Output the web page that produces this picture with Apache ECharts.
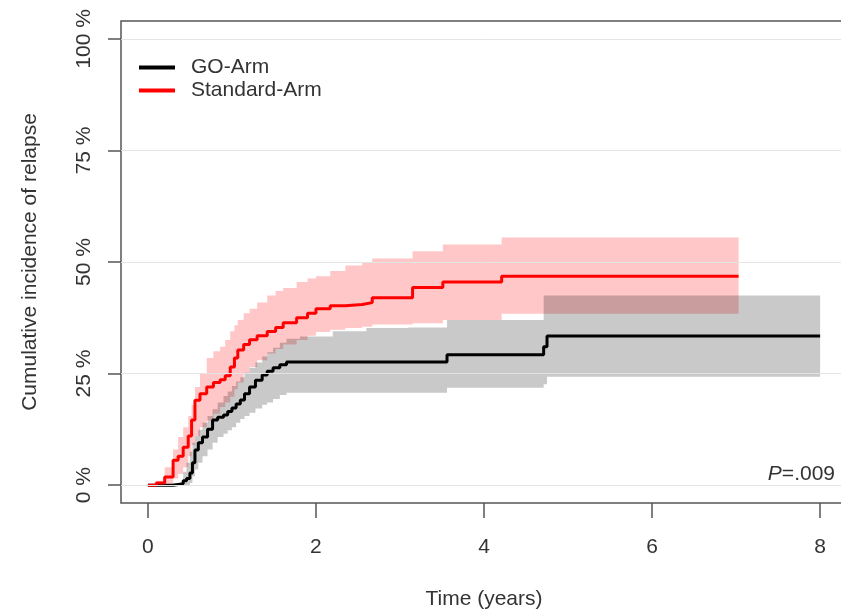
<!DOCTYPE html>
<html>
<head>
<meta charset="utf-8">
<title>Cumulative incidence of relapse</title>
<script src="https://cdn.jsdelivr.net/npm/echarts@6/dist/echarts.min.js"></script>
<style>
  html, body { margin: 0; padding: 0; background: #fff; }
  #chart { width: 841px; height: 613px; }
</style>
</head>
<body>
<div id="chart"></div>
<script>
const xTicks = [0, 2, 4, 6, 8]
const yTicks = [0, 25, 50, 75, 100]

// Standard-Arm: time (years), estimate and 95% band (%)
const stdTime = [0, 0.1, 0.2, 0.3, 0.36, 0.42, 0.48, 0.52, 0.56, 0.62, 0.7, 0.78, 0.86, 0.92, 0.98, 1.03, 1.07, 1.14, 1.21, 1.3, 1.42, 1.52, 1.61, 1.77, 1.9, 2.0, 2.17, 2.35, 2.55, 2.67, 3.15, 3.51, 4.21, 7.03]
const stdEst = [0, 0.5, 1.8, 5.6, 6.5, 8.5, 11, 14.6, 19, 20.5, 22, 23, 23.6, 24.5, 26.5, 28.5, 30.3, 31.5, 32.6, 33.5, 34.4, 35.3, 36.4, 37.5, 38.5, 39.5, 40.2, 40.5, 40.9, 42, 44.3, 45.5, 46.8, 46.8]
const stdHigh = [0, 1, 4, 8, 10.8, 13, 15.5, 18, 22, 25, 28.5, 30, 31, 32.5, 34.5, 35.8, 37, 38.5, 39.5, 40.9, 42.5, 43.5, 44.2, 45.5, 46.3, 46.8, 48, 49.2, 50, 50.8, 52.4, 53.9, 55.5, 55.5]
const stdLow = [0, 0, 0, 1.5, 2.5, 4, 6.5, 9, 11, 13, 14.5, 16, 17.5, 18.5, 19.8, 21.5, 23, 25, 26.5, 28, 29.5, 30.5, 31.5, 32.5, 33.5, 34.3, 34.8, 35.2, 35.5, 36, 36.3, 37, 38.4, 38.4]

// GO-Arm
const goTime = [0, 0.3, 0.42, 0.46, 0.5, 0.53, 0.56, 0.6, 0.65, 0.71, 0.77, 0.83, 0.9, 0.95, 1.0, 1.05, 1.1, 1.15, 1.21, 1.28, 1.36, 1.42, 1.49, 1.57, 1.65, 1.81, 2.2, 2.6, 3.1, 3.56, 4.71, 4.75, 8.0]
const goEst = [0, 0.3, 1, 1.5, 2.7, 5, 7.9, 9.5, 10.8, 12.5, 14.6, 15.2, 15.7, 16.5, 17.3, 18.2, 19.1, 20.5, 22, 23.5, 24.7, 25.5, 26.3, 27, 27.6, 27.6, 27.6, 27.6, 27.6, 29.2, 31, 33.4, 33.4]
const goHigh = [0, 0.5, 3, 5, 7.5, 9.5, 11, 12.4, 14, 15.5, 17, 18.5, 20, 21, 22.2, 23.2, 24.2, 25.2, 26.3, 27.5, 28.8, 29.8, 30.8, 31.9, 32.8, 33.3, 34.5, 35.2, 35.3, 37, 42.5, 42.5, 42.5]
const goLow = [0, 0, 0, 0, 0.5, 2, 3.5, 5, 6.5, 8, 9.5, 10.8, 11.5, 12.3, 13, 14, 14.8, 15.5, 16.2, 17.2, 18, 18.5, 19.3, 20.2, 20.7, 20.7, 20.7, 20.7, 20.7, 21.8, 22.6, 24.3, 24.3]

const font = 'Liberation Sans, Arial, sans-serif'
const txt = '#333'

function pairs(ts, vs) {
  return ts.map((t, i) => [t, vs[i]])
}

function steps(ts, vs) {
  let pts = []
  for (let i = 0; i < ts.length; i++) {
    if (i > 0) pts.push([ts[i], vs[i - 1]])
    pts.push([ts[i], vs[i]])
  }
  return pts
}

function band(ts, lo, hi, color) {
  return {
    type: 'custom',
    silent: true,
    z: 1,
    data: [[ts[0], lo[0]]],
    renderItem: function (params, api) {
      let top = steps(ts, hi).map(p => api.coord(p))
      let bottom = steps(ts, lo).reverse().map(p => api.coord(p))
      return {
        type: 'polygon',
        shape: { points: top.concat(bottom) },
        style: { fill: color }
      }
    }
  }
}

let ch = echarts.init(document.getElementById('chart'))
let option = {
  animation: false,
  backgroundColor: '#fff',
  textStyle: { fontFamily: font },
  grid: {
    left: 121,
    top: 21,
    width: 726,
    height: 482,
    containLabel: false,
    outerBoundsMode: 'none',
    show: true,
    borderColor: '#555',
    borderWidth: 1.5
  },
  legend: {
    data: ['GO-Arm', 'Standard-Arm'],
    orient: 'vertical',
    left: 139,
    top: 57,
    padding: 0,
    icon: 'rect',
    itemWidth: 36,
    itemHeight: 4,
    itemGap: 2,
    textStyle: { fontSize: 21, color: txt, fontFamily: font, padding: [0, 0, 0, 11] }
  },
  xAxis: {
    type: 'value',
    min: -0.32,
    max: 8.32,
    axisLine: { show: false, onZero: false },
    splitLine: { show: false },
    axisTick: { show: true, customValues: xTicks, length: 15, lineStyle: { color: '#555', width: 1.5 } },
    axisLabel: { customValues: xTicks, margin: 34, fontSize: 21, color: txt, fontFamily: font },
    name: 'Time (years)',
    nameLocation: 'middle',
    nameGap: 86,
    nameTextStyle: { fontSize: 21, color: txt, fontFamily: font }
  },
  yAxis: {
    type: 'value',
    min: -4,
    max: 104,
    axisLine: { show: false, onZero: false },
    splitLine: { show: false },
    axisTick: { show: true, customValues: yTicks, length: 13, lineStyle: { color: '#555', width: 1.5 } },
    axisLabel: {
      customValues: yTicks,
      rotate: 90,
      margin: 26,
      fontSize: 21,
      color: txt,
      fontFamily: font,
      formatter: v => v + ' %'
    },
    name: 'Cumulative incidence of relapse',
    nameLocation: 'middle',
    nameGap: 80,
    nameTextStyle: { fontSize: 21, color: txt, fontFamily: font }
  },
  graphic: [{
    type: 'text',
    right: 6,
    top: 464,
    style: {
      text: '{i|P}=.009',
      rich: { i: { fontStyle: 'italic', fontSize: 21, fontFamily: font, fill: txt } },
      fontSize: 21,
      fontFamily: font,
      fill: txt
    }
  }],
  series: [
    band(stdTime, stdLow, stdHigh, 'rgba(255,0,0,0.22)'),
    band(goTime, goLow, goHigh, 'rgba(0,0,0,0.21)'),
    {
      name: 'GO-Arm',
      type: 'line',
      step: 'end',
      symbol: 'none',
      z: 3,
      data: pairs(goTime, goEst),
      lineStyle: { color: '#000', width: 3 },
      itemStyle: { color: '#000' },
      markLine: {
        silent: true,
        symbol: 'none',
        label: { show: false },
        lineStyle: { color: '#e4e4e4', width: 1, type: 'solid' },
        data: yTicks.map(v => ({ yAxis: v }))
      }
    },
    {
      name: 'Standard-Arm',
      type: 'line',
      step: 'end',
      symbol: 'none',
      z: 3,
      data: pairs(stdTime, stdEst),
      lineStyle: { color: '#f00', width: 3 },
      itemStyle: { color: '#f00' }
    }
  ]
}
ch.setOption(option)
</script>
</body>
</html>
